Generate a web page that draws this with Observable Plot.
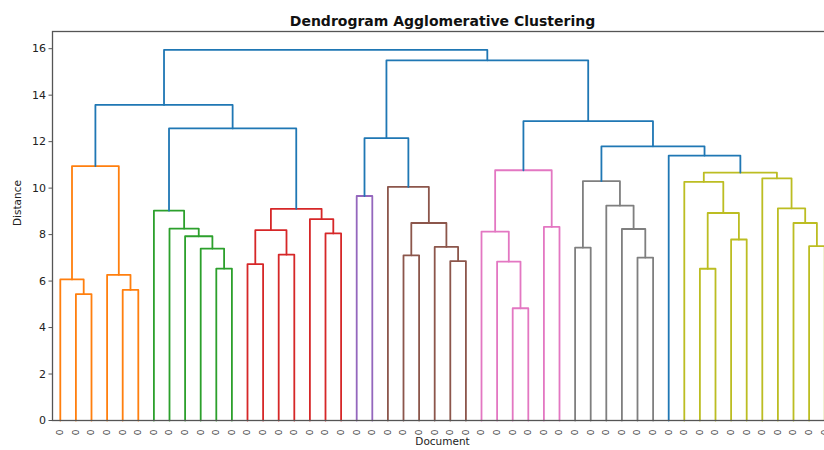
<!DOCTYPE html>
<html>
<head>
<meta charset="utf-8">
<script src="https://cdn.jsdelivr.net/npm/d3@7"></script>
<script src="https://cdn.jsdelivr.net/npm/@observablehq/plot@0.6"></script>
<style>
  html, body { margin: 0; padding: 0; background: #fff; overflow: hidden; }
  #chart { width: 824px; height: 450px; overflow: hidden; }
  #chart svg { max-width: none !important; }
</style>
</head>
<body>
<div id="chart"></div>
<script>
// ---- Data ----
const title = "Dendrogram Agglomerative Clustering";
const xLabel = "Document";
const yLabel = "Distance";
const yTicks = [0, 2, 4, 6, 8, 10, 12, 14, 16];
const leafLabels = ["0","0","0","0","0","0","0","0","0","0",
                    "0","0","0","0","0","0","0","0","0","0",
                    "0","0","0","0","0","0","0","0","0","0",
                    "0","0","0","0","0","0","0","0","0","0",
                    "0","0","0","0","0","0","0","0","0","0"];
// merges: [left node, right node, distance]; nodes < 50 are leaves, node 50+k is merge k
const mergeLeft  = [1, 0, 4, 3, 51,   10, 9, 8, 7, 6,   12, 14, 60, 17, 16, 62,   19,   22, 25, 24, 67, 21,
                    29, 28, 27, 31, 74,   33, 37, 36, 35, 77,   41, 43, 82, 40, 48, 47, 46, 45, 85,
                    39, 81, 76, 66, 94, 59, 54, 97];
const mergeRight = [2, 50, 5, 52, 53,  11, 55, 56, 57, 58,  13, 15, 61, 18, 63, 64,  20,   23, 26, 68, 69, 70,
                    30, 72, 73, 32, 75,   34, 38, 78, 79, 80,   42, 44, 83, 84, 49, 86, 87, 88, 89,
                    90, 91, 92, 71, 93, 65, 96, 95];
const mergeDist  = [5.44, 6.07, 5.62, 6.27, 10.95,
                    6.54, 7.40, 7.93, 8.26, 9.03,
                    6.73, 7.14, 8.19, 8.05, 8.67, 9.11,
                    9.66,
                    7.11, 6.86, 7.47, 8.50, 10.05,
                    4.83, 6.84, 8.13, 8.33, 10.77,
                    7.44, 7.01, 8.24, 9.25, 10.30,
                    6.53, 7.79, 8.93, 10.27, 7.50, 8.50, 9.13, 10.42, 10.67,
                    11.40, 11.80, 12.88, 12.15, 15.50, 12.57, 13.58, 15.95];
const colorThreshold = 11.165;
const clusterNames = ["C0","C1","C2","C3","C4","C5","C6","C7","C8","C9"];
const palette = ["#1f77b4","#ff7f0e","#2ca02c","#d62728","#9467bd","#8c564b","#e377c2","#7f7f7f","#bcbd22","#17becf"];

// ---- Build dendrogram geometry (scipy-style: leaf i at 5 + 10 i) ----
const N = leafLabels.length;
const nodeX = [], nodeH = [];
for (let i = 0; i < N; i++) { nodeX[i] = 5 + 10 * i; nodeH[i] = 0; }
mergeDist.forEach((h, k) => {
  const a = mergeLeft[k], b = mergeRight[k];
  nodeX[N + k] = (nodeX[a] + nodeX[b]) / 2;
  nodeH[N + k] = h;
});
// colour assignment: each maximal sub-threshold subtree gets next colour
const mergeColor = new Array(mergeDist.length).fill("C0");
let nextColor = 1;
function paint(node, c) {
  if (node < N) return;
  const k = node - N;
  mergeColor[k] = c;
  paint(mergeLeft[k], c); paint(mergeRight[k], c);
}
function visit(node) {
  if (node < N) return;
  const k = node - N;
  if (mergeDist[k] < colorThreshold) {
    paint(node, clusterNames[nextColor]);
    nextColor = nextColor % 9 + 1;
  } else {
    visit(mergeLeft[k]); visit(mergeRight[k]);
  }
}
visit(N + mergeDist.length - 1);

const linkPts = [];
mergeDist.forEach((h, k) => {
  const a = mergeLeft[k], b = mergeRight[k];
  const c = mergeColor[k];
  linkPts.push({id: k, c, x: nodeX[a], y: nodeH[a]});
  linkPts.push({id: k, c, x: nodeX[a], y: h});
  linkPts.push({id: k, c, x: nodeX[b], y: h});
  linkPts.push({id: k, c, x: nodeX[b], y: nodeH[b]});
});
const leafData = leafLabels.map((t, i) => ({t, x: nodeX[i]}));

const chart = Plot.plot({
  width: 840,
  height: 450,
  marginLeft: 52,
  marginRight: 8,
  marginTop: 31,
  marginBottom: 30,
  style: {fontFamily: "DejaVu Sans", fontSize: "11px", color: "#222", background: "#fff", maxWidth: "none"},
  x: {domain: [0, 10 * N], axis: null},
  y: {domain: [0, 16.74], axis: null},
  color: {domain: clusterNames, range: palette},
  marks: [
    Plot.line(linkPts, {x: "x", y: "y", z: "id", stroke: "c", strokeWidth: 1.8, curve: "linear"}),
    Plot.frame({stroke: "#555", strokeWidth: 1.3}),
    Plot.axisY({ticks: yTicks, tickSize: 3.5, tickPadding: 3, fontSize: 11, label: null, stroke: "#555"}),
    Plot.text(leafData, {x: "x", y: 0, text: "t", dy: 12, rotate: -90, fontSize: 9, fill: "#444"}),
    Plot.text([yLabel], {frameAnchor: "left", dx: -35, rotate: -90, fontSize: 10.5, fill: "#222"}),
    Plot.text([xLabel], {frameAnchor: "bottom", dy: 24, fontSize: 10.5, fill: "#222"}),
    Plot.text([title], {frameAnchor: "top", dy: -15, fontSize: 14, fontWeight: "bold", fill: "#111"})
  ]
});
chart.style.maxWidth = "none";
document.getElementById("chart").appendChild(chart);
</script>
</body>
</html>
